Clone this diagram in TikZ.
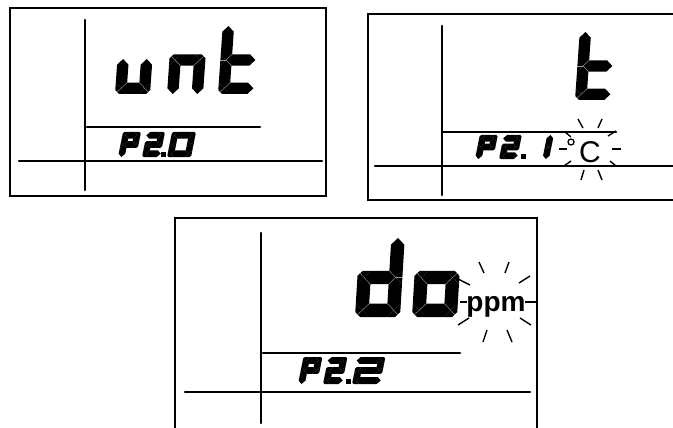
\documentclass[tikz,border=0pt]{standalone}
\usepackage{fontspec}
\setmainfont{Liberation Sans}
\tikzset{
  frame/.style={line width=2.8pt},
  ruler/.style={line width=2.6pt, line cap=round},
  ray/.style={line width=1.4pt},
  sep/.style={draw=white!60!black, line width=0.4pt},
}
% segment primitives (local digit coordinates, y up)
\newcommand\hseg[3]{\fill ({#1},{#3}) -- ({#1+\hT},{#3+\hT}) -- ({#2-\hT},{#3+\hT}) -- ({#2},{#3}) -- ({#2-\hT},{#3-\hT}) -- ({#1+\hT},{#3-\hT}) -- cycle;}
\newcommand\vseg[3]{\fill ({#1},{#2}) -- ({#1+\hT},{#2+\hT}) -- ({#1+\hT},{#3-\hT}) -- ({#1},{#3}) -- ({#1-\hT},{#3-\hT}) -- ({#1-\hT},{#2+\hT}) -- cycle;}
\newcommand\cfill[4]{\fill ({#1},{#2}) -- ({#1+(#3)*\hT},{#2-(#4)*\hT}) -- ({#1+(#3)*\hT},{#2+(#4)*(\hT-\dC)}) -- ({#1+(#3)*(\hT-\dC)},{#2+(#4)*\hT}) -- ({#1-(#3)*\hT},{#2+(#4)*\hT}) -- cycle;
  \draw[sep] ({#1-(#3)*\hT},{#2-(#4)*\hT}) -- ({#1+(#3)*(\hT-\dC/2)},{#2+(#4)*(\hT-\dC/2)});}
\newcommand\tfill[3]{\fill ({#1},{#2}) -- ({#1+(#3)*\hT},{#2+\hT}) -- ({#1+(#3)*\hT},{#2-\hT}) -- cycle;
  \draw[sep] ({#1-(#3)*\hT},{#2+\hT}) -- ({#1},{#2}) -- ({#1-(#3)*\hT},{#2-\hT}); \draw[sep] ({#1},{#2}) -- ({#1+(#3)*\hT},{#2});}
\newcommand\digit[8]{%
  \begin{scope}[shift={(#1,#2)}, y=1pt, xslant=#7]
  \def\dW{#3}\def\dHt{#4}\def\hT{#5}\def\dC{#6}%
  \pgfmathsetmacro\dL{#5}\pgfmathsetmacro\dR{#3-#5}\pgfmathsetmacro\dB{#5}%
  \pgfmathsetmacro\dM{#4/2}\pgfmathsetmacro\dT{#4-#5}%
  #8
  \end{scope}}
% glyphs
\newcommand\gU{\vseg{\dL}{\dB}{\dM+1}\vseg{\dR}{\dB}{\dM+1}\hseg{\dL}{\dR}{\dB}\cfill{\dL}{\dB}{-1}{-1}\cfill{\dR}{\dB}{1}{-1}}
\newcommand\gN{\vseg{\dL}{0}{\dM}\vseg{\dR}{0}{\dM}\hseg{\dL}{\dR}{\dM}\cfill{\dL}{\dM}{-1}{1}\cfill{\dR}{\dM}{1}{1}}
\newcommand\gT{\vseg{\dL}{\dM}{\dHt}\vseg{\dL}{\dB}{\dM}\hseg{\dL}{\dW}{\dM}\hseg{\dL}{\dW}{\dB}\tfill{\dL}{\dM}{-1}\cfill{\dL}{\dB}{-1}{-1}}
\newcommand\gD{\vseg{\dR}{\dM}{\dHt}\vseg{\dR}{\dB}{\dM}\hseg{\dL}{\dR}{\dB}\vseg{\dL}{\dB}{\dM}\hseg{\dL}{\dR}{\dM}\tfill{\dR}{\dM}{1}\cfill{\dL}{\dB}{-1}{-1}\cfill{\dR}{\dB}{1}{-1}\cfill{\dL}{\dM}{-1}{1}}
\newcommand\gO{\vseg{\dR}{\dB}{\dM}\hseg{\dL}{\dR}{\dB}\vseg{\dL}{\dB}{\dM}\hseg{\dL}{\dR}{\dM}\cfill{\dL}{\dB}{-1}{-1}\cfill{\dR}{\dB}{1}{-1}\cfill{\dL}{\dM}{-1}{1}\cfill{\dR}{\dM}{1}{1}}
\newcommand\gP{\hseg{\dL}{\dR}{\dT}\vseg{\dR}{\dM}{\dT}\vseg{\dL}{\dM}{\dT}\hseg{\dL}{\dR}{\dM}\vseg{\dL}{0}{\dM}\cfill{\dL}{\dT}{-1}{1}\cfill{\dR}{\dT}{1}{1}\cfill{\dR}{\dM}{1}{-1}\tfill{\dL}{\dM}{-1}}
\newcommand\gTwo{\hseg{0}{\dR}{\dT}\vseg{\dR}{\dM}{\dT}\hseg{\dL}{\dR}{\dM}\vseg{\dL}{\dB}{\dM}\hseg{\dL}{\dW}{\dB}\cfill{\dR}{\dT}{1}{1}\cfill{\dR}{\dM}{1}{-1}\cfill{\dL}{\dM}{-1}{1}\cfill{\dL}{\dB}{-1}{-1}}
\newcommand\gZero{\hseg{\dL}{\dR}{\dT}\vseg{\dR}{\dM}{\dT}\vseg{\dR}{\dB}{\dM}\hseg{\dL}{\dR}{\dB}\vseg{\dL}{\dB}{\dM}\vseg{\dL}{\dM}{\dT}\cfill{\dL}{\dT}{-1}{1}\cfill{\dR}{\dT}{1}{1}\cfill{\dL}{\dB}{-1}{-1}\cfill{\dR}{\dB}{1}{-1}\tfill{\dL}{\dM}{-1}\tfill{\dL}{\dM}{1}\tfill{\dR}{\dM}{-1}\tfill{\dR}{\dM}{1}}
\newcommand\gOne{\vseg{\dR}{\dM}{\dHt}\vseg{\dR}{0}{\dM}\tfill{\dR}{\dM}{-1}\tfill{\dR}{\dM}{1}}
\begin{document}
\begin{tikzpicture}[x=1pt, y=-1pt]
\useasboundingbox (0,0) rectangle (673,428);
\fill[white] (0,0) rectangle (673,428);

% ---------- panel 1 ----------
\draw[frame] (10,8) rectangle (326,196);
\draw[ruler] (85,20) -- (85,190);
\draw[ruler] (87,127) -- (260,127);
\draw[ruler] (19,161) -- (322,161);
\digit{115}{94}{35}{68}{5.7}{4}{0.07}{\gU}
\digit{167}{94}{36}{68}{5.7}{4}{0.07}{\gN}
\digit{218}{94}{35}{68}{5.7}{4}{0.07}{\gT}
\begin{scope}\tikzset{sep/.style={opacity=0}}
\digit{118}{157}{18}{25}{3.3}{1.5}{0.2}{\gP}
\digit{142}{157}{18}{25}{3.3}{1.5}{0.2}{\gTwo}
\fill (161,152) rectangle (166,157);
\digit{167}{157}{24}{25}{3.3}{1.5}{0.2}{\gZero}
\end{scope}

% ---------- panel 2 ----------
\draw[frame] (680,14) -- (368,14) -- (368,200) -- (680,200);
\draw[ruler] (442,26) -- (442,195);
\draw[ruler] (443,132) -- (616,132);
\draw[ruler] (375,166) -- (680,166);
\digit{575}{100}{35}{68}{5.7}{4}{0.07}{\gT}
\begin{scope}\tikzset{sep/.style={opacity=0}}
\digit{475}{159}{18}{24}{3.3}{1.5}{0.2}{\gP}
\digit{499}{159}{18}{24}{3.3}{1.5}{0.2}{\gTwo}
\fill (521,154) rectangle (526,159);
\digit{530}{159}{19}{24}{3.3}{1.5}{0.2}{\gOne}
\end{scope}
\draw[line width=1.3pt] (571,142) circle (3);
\node[anchor=base, font=\fontsize{30}{31}\selectfont, inner sep=0pt] (degc) at (590,163) {C};
\draw[ray] (578,119) -- (583,128);
\draw[ray] (602,119) -- (598,128);
\draw[ray] (565,132) -- (571,137);
\draw[ray] (608,136) -- (616,131);
\draw[ray] (559,149) -- (567,149);
\draw[ray] (612,149) -- (621,149);
\draw[ray] (571,161) -- (564,166);
\draw[ray] (610,161) -- (616,166);
\draw[ray] (584,170) -- (581,180);
\draw[ray] (598,170) -- (602,180);

% ---------- panel 3 ----------
\draw[frame] (175,435) -- (175,218) -- (537,218) -- (537,435);
\draw[ruler] (261,233) -- (261,423);
\draw[ruler] (263,353) -- (460,353);
\draw[ruler] (185,392) -- (530,392);
\digit{355}{317}{45}{79}{6.7}{5}{0.06}{\gD}
\digit{412}{317}{45}{79}{6.7}{5}{0.06}{\gO}
\begin{scope}\tikzset{sep/.style={opacity=0}}
\digit{298}{384}{19}{27}{3.4}{1.5}{0.2}{\gP}
\digit{323}{384}{19}{27}{3.4}{1.5}{0.2}{\gTwo}
\fill (346,379) rectangle (351,384);
\digit{352}{384}{28}{27}{3.4}{1.5}{0.2}{\gTwo}
\end{scope}
\node[anchor=base, font=\bfseries\fontsize{28}{30}\selectfont, inner sep=0pt] (ppm) at (496,311) {ppm};
\draw[ray] (479,262) -- (484,273);
\draw[ray] (509,262) -- (505,273);
\draw[ray] (458,279) -- (470,285);
\draw[ray] (530,276) -- (519,283);
\draw[ray] (460,302) -- (467,302);
\draw[ray] (525,302) -- (538,302);
\draw[ray] (458,325) -- (469,318);
\draw[ray] (520,318) -- (531,325);
\draw[ray] (487,330) -- (483,342);
\draw[ray] (507,330) -- (512,342);
\end{tikzpicture}
\end{document}
